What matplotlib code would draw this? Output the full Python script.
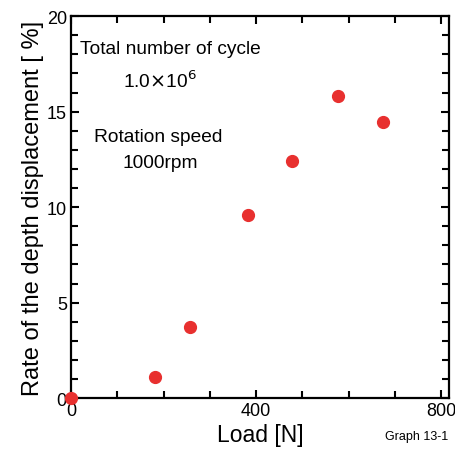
import matplotlib
matplotlib.use('Agg')
import matplotlib.pyplot as plt
from matplotlib.ticker import MultipleLocator

load = [0, 182, 257, 383, 478, 577, 675]
displacement = [0.0, 1.1, 3.7, 9.6, 12.4, 15.8, 14.45]
x_ticks = [0, 400, 800]
y_ticks = [0, 5, 10, 15, 20]

plt.rcParams['font.family'] = ['Liberation Sans', 'DejaVu Sans']

fig = plt.figure(figsize=(4.55, 4.52), dpi=100)
ax = fig.add_axes([0.156, 0.117, 0.831, 0.845])

ax.plot(load, displacement, 'o', color='#e8302f', markersize=8.5, clip_on=False, zorder=5)

ax.set_xlim(0, 817)
ax.set_ylim(0, 20)
ax.set_xticks(x_ticks)
ax.set_yticks(y_ticks)
ax.xaxis.set_minor_locator(MultipleLocator(100))
ax.yaxis.set_minor_locator(MultipleLocator(1))
ax.tick_params(which='both', direction='in', top=True, right=True, width=1.5, labelsize=13, pad=3)
ax.tick_params(which='major', length=6)
ax.tick_params(which='minor', length=5)
for spine in ax.spines.values():
    spine.set_linewidth(1.6)

ax.set_xlabel('Load [N]', fontsize=16.5, labelpad=3)
ax.set_ylabel('Rate of the depth displacement [ %]', fontsize=17, labelpad=2)

ax.text(20, 18.3, 'Total number of cycle', fontsize=13.8, va='center', ha='left')
ax.text(192, 16.65, r'1.0$\times$10$^6$', fontsize=13.8, va='center', ha='center')
ax.text(188, 13.7, 'Rotation speed', fontsize=13.8, va='center', ha='center')
ax.text(192, 12.35, '1000rpm', fontsize=13.8, va='center', ha='center')

fig.text(0.985, 0.033, 'Graph 13-1', fontsize=9, ha='right', va='center')

fig.savefig('out.png', dpi=100)
